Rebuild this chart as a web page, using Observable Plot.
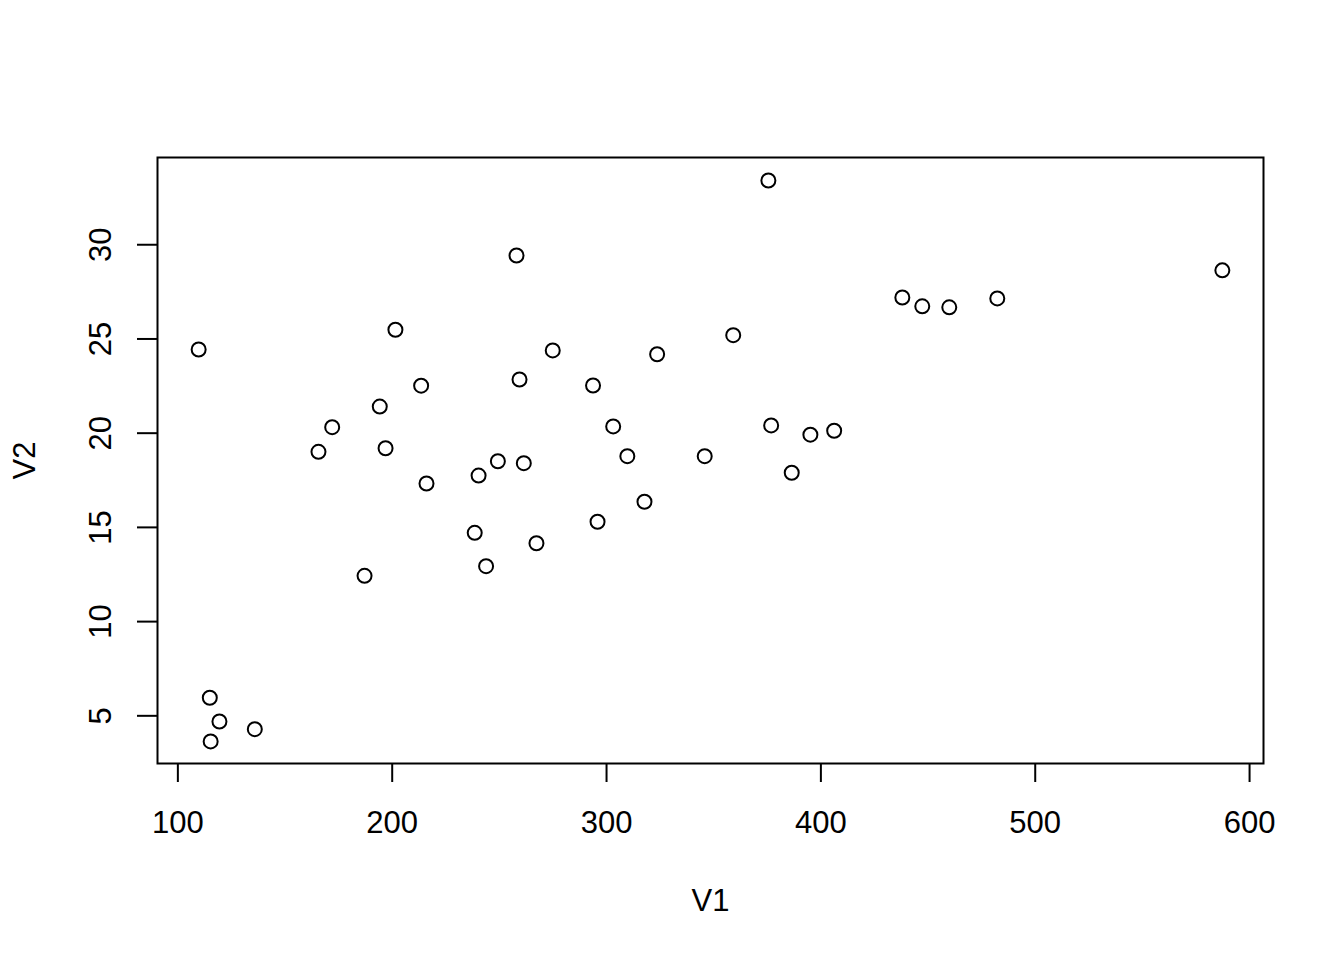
<!DOCTYPE html>
<html>
<head>
<meta charset="utf-8">
<script src="https://cdn.jsdelivr.net/npm/d3@7"></script>
<script src="https://cdn.jsdelivr.net/npm/@observablehq/plot@0.6"></script>
<style>
  html, body { margin: 0; padding: 0; background: #fff; }
  svg { display: block; }
</style>
</head>
<body>
<div id="chart"></div>
<script>
const V1 = [375.5, 258.0, 587.3, 438.0, 482.3, 447.3, 459.9, 201.5, 359.1, 109.7,
            274.9, 323.6, 259.4, 213.5, 293.7, 194.2, 172.0, 303.1, 376.8, 406.2,
            395.1, 196.9, 165.6, 249.3, 261.4, 309.7, 345.8, 386.4, 240.3, 216.0,
            317.7, 295.8, 238.5, 267.3, 243.8, 187.1, 114.9, 119.4, 135.9, 115.3];
const V2 = [33.41, 29.43, 28.64, 27.20, 27.15, 26.73, 26.68, 25.49, 25.20, 24.44,
            24.39, 24.19, 22.85, 22.52, 22.53, 21.41, 20.32, 20.36, 20.41, 20.13,
            19.92, 19.20, 19.01, 18.51, 18.41, 18.78, 18.78, 17.90, 17.75, 17.33,
            16.36, 15.30, 14.71, 14.16, 12.94, 12.43, 5.96, 4.70, 4.29, 3.64];
const xTicks = [100, 200, 300, 400, 500, 600];
const yTicks = [5, 10, 15, 20, 25, 30];

const data = V1.map((v, i) => ({V1: v, V2: V2[i]}));

const chart = Plot.plot({
  width: 1344,
  height: 960,
  marginLeft: 157,
  marginRight: 81,
  marginTop: 157,
  marginBottom: 197,
  style: {fontFamily: "'Liberation Sans', Arial, Helvetica, sans-serif", fontSize: "31px", color: "black", background: "white"},
  x: {domain: [90.5, 606.5]},
  y: {domain: [2.47, 34.63]},
  marks: [
    Plot.frame({stroke: "black", strokeWidth: 2}),
    Plot.axisX({
      ticks: xTicks, tickSize: 19, tickPadding: 28, strokeWidth: 2,
      fontSize: 31, tickFormat: d => String(d),
      label: "V1", labelAnchor: "center", labelArrow: "none", labelOffset: 147
    }),
    Plot.axisY({
      ticks: yTicks, tickSize: 20, strokeWidth: 2,
      fontSize: 31, tickFormat: () => "",
      label: "V2", labelAnchor: "center", labelArrow: "none", labelOffset: 145
    }),
    Plot.axisY({
      ticks: yTicks, tickSize: 0, tickPadding: 47,
      fontSize: 31, rotate: -90, textAnchor: "middle", lineAnchor: "bottom",
      tickFormat: d => String(d), label: null
    }),
    Plot.dot(data, {x: "V1", y: "V2", r: 7, stroke: "black", strokeWidth: 2, fill: "none"})
  ]
});
document.getElementById("chart").appendChild(chart);
</script>
</body>
</html>
